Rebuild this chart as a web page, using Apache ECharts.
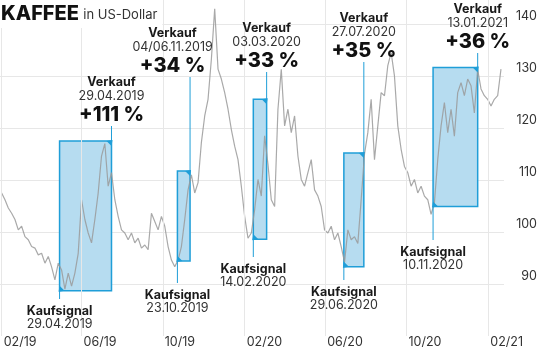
<!DOCTYPE html>
<html>
<head>
<meta charset="utf-8">
<script src="https://cdn.jsdelivr.net/npm/echarts@6/dist/echarts.min.js"></script>
<style>
  html, body { margin: 0; padding: 0; background: #fff; }
  #chart { width: 540px; height: 350px; }
</style>
</head>
<body>
<div id="chart"></div>
<script>
// Coffee price (US-Dollar), one reading every 5 days from 1 Feb 2019
const startDate = '2019-02-01';
const stepDays = 5;
const prices = [
  107.5, 106.2, 104.6, 103.6, 102.4, 100.4, 101.1, 99.1, 98.5, 97.2,
  96.9, 95.6, 95.9, 94.0, 95.3, 93.3, 90.8, 94.0, 92.7, 89.0,
  92.1, 89.6, 92.1, 95.9, 106.2, 102.4, 99.8, 97.9, 102.4, 107.5,
  114.6, 117.0, 108.8, 111.4, 106.2, 103.0, 100.4, 99.8, 98.5, 99.8,
  97.9, 98.8, 96.9, 97.5, 96.6, 103.6, 102.0, 100.4, 103.0, 101.1,
  97.2, 94.6, 93.3, 94.6, 97.2, 102.4, 108.1, 111.0, 107.5, 109.5,
  117.2, 122.3, 125.5, 133.2, 142.9, 131.3, 129.4, 126.8, 123.6, 119.7,
  116.5, 113.9, 108.8, 103.0, 98.8, 99.8, 104.3, 110.1, 106.9, 118.5,
  113.0, 106.2, 104.9, 123.6, 131.3, 120.4, 123.6, 119.1, 122.3, 114.6,
  110.1, 108.8, 111.4, 113.9, 108.1, 106.9, 104.9, 100.4, 99.8, 101.1,
  98.5, 99.8, 97.2, 94.2, 100.4, 98.5, 99.1, 97.8, 106.2, 115.0,
  119.1, 125.5, 113.9, 120.4, 126.8, 126.2, 132.0, 134.5, 130.0, 120.4,
  115.9, 112.6, 111.4, 108.8, 110.1, 107.5, 108.8, 106.9, 106.2, 103.4,
  105.6, 113.9, 120.4, 124.9, 119.1, 123.6, 118.4, 126.8, 128.7, 126.2,
  129.4, 128.1, 122.9, 131.2, 127.5, 126.2, 125.5, 124.2, 125.5, 126.2,
  131.3
];

// x-axis ticks
const tickDates = ['2019-02-01', '2019-06-01', '2019-10-01', '2020-02-01', '2020-06-01', '2020-10-01', '2021-02-01'];
const tickLabels = ['02/19', '06/19', '10/19', '02/20', '06/20', '10/20', '02/21'];

// y-axis ticks
const yTickValues = [90, 100, 110, 120, 130, 140];

// trades: entry (low side) and exit (high side) of each holding period
const buyDates = ['2019-04-29', '2019-10-23', '2020-02-14', '2020-06-29', '2020-11-10'];
const buyPrices = [88.7, 94.4, 98.6, 93.3, 104.9];
const sellDates = ['2019-07-16', '2019-11-11', '2020-03-05', '2020-07-29', '2021-01-16'];
const sellPrices = [117.5, 111.7, 125.5, 115.2, 131.6];
const buyTexts = ['29.04.2019', '23.10.2019', '14.02.2020', '29.06.2020', '10.11.2020'];
const sellTexts = ['29.04.2019', '04/06.11.2019', '03.03.2020', '27.07.2020', '13.01.2021'];
const gainTexts = ['+111 %', '+34 %', '+33 %', '+35 %', '+36 %'];

// annotation layout (pixels)
const sellStemTop = [126, 77, 72, 62, 53];
const buyStemBottom = [299, 283, 257, 280, 240];
const sellLabelShift = [0, -17.5, 0, 0, 0];

const DAY = 86400000;
const ts = s => { const p = s.split('-').map(Number); return Date.UTC(p[0], p[1] - 1, p[2]); };
const t0 = ts(startDate);
const lineData = prices.map((v, i) => [t0 + i * stepDays * DAY, v]);
const tickTs = tickDates.map(ts);
const xMin = ts('2019-02-01') - 2.47 * DAY;
const xMax = xMin + 757 * DAY;

const BLUE = '#1f9ed8';
const FILL = '#b6dcf0';
const FONT = 'Inter, "Liberation Sans", Arial, sans-serif';

const chart = echarts.init(document.getElementById('chart'), null, { renderer: 'canvas' });

chart.setOption({
  animation: false,
  backgroundColor: '#fff',
  textStyle: { fontFamily: FONT },
  title: {
    text: '{a|KAFFEE} {b|in US-Dollar}',
    left: 0, top: 0,
    padding: [4, 5, 4, 1],
    backgroundColor: '#fff',
    textStyle: {
      rich: {
        a: { fontFamily: FONT, fontSize: 20, fontWeight: 800, color: '#111' },
        b: { fontFamily: FONT, fontSize: 13, fontWeight: 400, color: '#333', padding: [3, 0, 0, 0] }
      }
    }
  },
  grid: { left: 0, right: 35, top: 0, bottom: 14 },
  xAxis: {
    type: 'value', min: xMin, max: xMax,
    axisLine: { show: false }, axisTick: { show: false }, splitLine: { show: false },
    axisLabel: {
      customValues: tickTs,
      formatter: v => { const k = tickTs.indexOf(v); return k >= 0 ? tickLabels[k] : ''; },
      align: 'left', margin: 0, padding: [0, 0, 0, 2],
      fontFamily: FONT, fontSize: 12.5, color: '#333'
    }
  },
  yAxis: {
    type: 'value', position: 'right', min: 80, max: 144.6, interval: 10,
    axisLine: { show: false }, axisTick: { show: false },
    splitLine: { show: true, showMinLine: false, showMaxLine: false, lineStyle: { color: '#e7e7e7', width: 1 } },
    axisLabel: {
      align: 'right', margin: 33, verticalAlign: 'bottom', padding: [0, 0, 1, 0],
      showMaxLabel: false,
      fontFamily: FONT, fontSize: 12.5, color: '#333',
      formatter: v => yTickValues.indexOf(v) >= 0 ? String(v) : ''
    }
  },
  series: [
    {
      // vertical grid lines at the labelled months
      type: 'line', data: [], z: 1, silent: true,
      markLine: {
        silent: true, symbol: ['none', 'none'], animation: false,
        label: { show: false },
        lineStyle: { color: '#e7e7e7', width: 1, type: 'solid' },
        data: tickTs.map(v => ({ xAxis: v }))
      }
    },
    {
      // holding periods
      type: 'line', data: [], z: 2, silent: true,
      markArea: {
        silent: true,
        itemStyle: { color: FILL, borderColor: BLUE, borderWidth: 1.5, opacity: 1 },
        data: buyDates.map((d, i) => [
          { coord: [ts(d), buyPrices[i]] },
          { coord: [ts(sellDates[i]), sellPrices[i]] }
        ])
      }
    },
    {
      name: 'Kaffee', type: 'line', data: lineData, z: 3,
      showSymbol: false, symbol: 'none',
      lineStyle: { color: '#9a9a9a', width: 1.2, opacity: 0.85 }
    }
  ]
});

// stems, corner marks and trade labels, placed through the grid's scales
const graphics = [];
buyDates.forEach((d, i) => {
  const b = chart.convertToPixel({ gridIndex: 0 }, [ts(d), buyPrices[i]]);
  const s = chart.convertToPixel({ gridIndex: 0 }, [ts(sellDates[i]), sellPrices[i]]);
  graphics.push({ type: 'line', z: 10, shape: { x1: b[0], y1: b[1], x2: b[0], y2: buyStemBottom[i] }, style: { stroke: BLUE, lineWidth: 1 } });
  graphics.push({ type: 'polygon', z: 10, shape: { points: [[b[0] - 1, b[1] + 1], [b[0] + 5, b[1]], [b[0], b[1] - 5]] }, style: { fill: BLUE } });
  graphics.push({ type: 'line', z: 10, shape: { x1: s[0], y1: s[1], x2: s[0], y2: sellStemTop[i] }, style: { stroke: BLUE, lineWidth: 1 } });
  graphics.push({ type: 'polygon', z: 10, shape: { points: [[s[0] + 1, s[1] - 1], [s[0] - 5, s[1]], [s[0], s[1] + 5]] }, style: { fill: BLUE } });

  const by = buyStemBottom[i];
  graphics.push({ type: 'text', z: 11, style: { x: b[0], y: by + 12, text: 'Kaufsignal', align: 'center', verticalAlign: 'middle', fill: '#1a1a1a', font: '700 12.5px ' + FONT } });
  graphics.push({ type: 'text', z: 11, style: { x: b[0], y: by + 25.5, text: buyTexts[i], align: 'center', verticalAlign: 'middle', fill: '#333', font: '400 12.5px ' + FONT } });

  const sx = s[0] + sellLabelShift[i];
  const sy = sellStemTop[i];
  graphics.push({ type: 'text', z: 11, style: { x: sx, y: sy - 44, text: 'Verkauf', align: 'center', verticalAlign: 'middle', fill: '#1a1a1a', font: '700 12.5px ' + FONT } });
  graphics.push({ type: 'text', z: 11, style: { x: sx, y: sy - 29.5, text: sellTexts[i], align: 'center', verticalAlign: 'middle', fill: '#333', font: '400 12.5px ' + FONT } });
  graphics.push({ type: 'text', z: 11, style: { x: sx, y: sy - 11, text: gainTexts[i], align: 'center', verticalAlign: 'middle', fill: '#111', font: '800 20px ' + FONT } });
});
chart.setOption({ graphic: graphics });
</script>
</body>
</html>
